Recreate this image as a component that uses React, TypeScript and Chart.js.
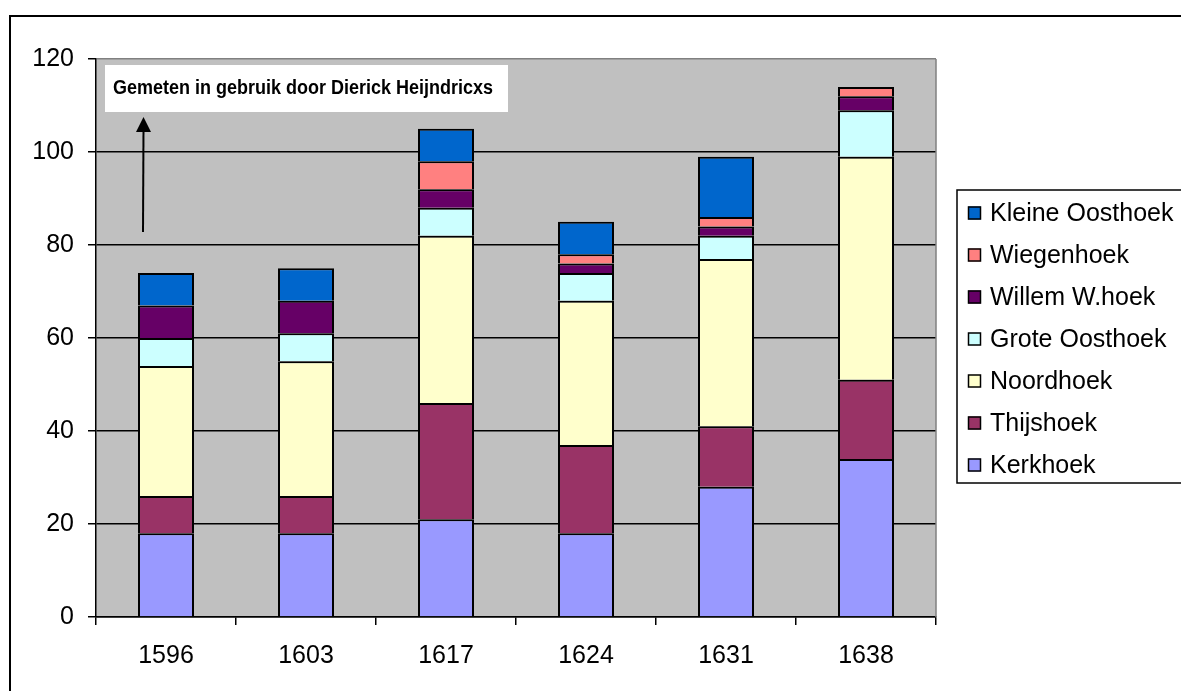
import React, { useEffect, useRef } from "react";
import { Chart, registerables } from "chart.js";

Chart.register(...registerables);

const years = ["1596", "1603", "1617", "1624", "1631", "1638"];
const kerkhoek = [18, 18, 21, 18, 28, 34];
const thijshoek = [8, 8, 25, 19, 13, 17];
const noordhoek = [28, 29, 36, 31, 36, 48];
const groteOosthoek = [6, 6, 6, 6, 5, 10];
const willemWhoek = [7, 7, 4, 2, 2, 3];
const wiegenhoek = [0, 0, 6, 2, 2, 2];
const kleineOosthoek = [7, 7, 7, 7, 13, 0];
const yTicks = [0, 20, 40, 60, 80, 100, 120];
const annotationText = "Gemeten in gebruik door Dierick Heijndricxs";

const FONT = '"Liberation Sans", Arial, sans-serif';

const framePlugin = {
  id: "frame",
  beforeDraw(chart: any) {
    const { ctx, chartArea } = chart;
    ctx.save();
    ctx.fillStyle = "#fff";
    ctx.fillRect(0, 0, chart.width, chart.height);
    ctx.strokeStyle = "#000";
    ctx.lineWidth = 2;
    ctx.strokeRect(10, 16, chart.width + 20, chart.height + 20);
    ctx.fillStyle = "#C0C0C0";
    ctx.fillRect(chartArea.left, chartArea.top, chartArea.right - chartArea.left, chartArea.bottom - chartArea.top);
    ctx.restore();
  },
  afterDraw(chart: any) {
    const { ctx, chartArea } = chart;
    ctx.save();
    // right plot border
    ctx.strokeStyle = "#808080";
    ctx.lineWidth = 1.5;
    ctx.beginPath();
    ctx.moveTo(chartArea.right, chartArea.top);
    ctx.lineTo(chartArea.right, chartArea.bottom);
    ctx.stroke();

    // annotation box
    const bx = chartArea.left + 9;
    const by = chartArea.top + 6;
    const bw = 403;
    const bh = 47;
    ctx.fillStyle = "#fff";
    ctx.fillRect(bx, by, bw, bh);
    ctx.fillStyle = "#000";
    ctx.font = "bold 20px " + FONT;
    ctx.textBaseline = "alphabetic";
    ctx.textAlign = "left";
    const tw = ctx.measureText(annotationText).width;
    const target = 380;
    ctx.save();
    ctx.translate(bx + 8, by + 29);
    ctx.scale(target / tw, 1);
    ctx.fillText(annotationText, 0, 0);
    ctx.restore();

    // arrow
    const ax = chartArea.left + 47;
    const yBottom = chartArea.bottom - 385;
    const yTip = chartArea.top + 58;
    ctx.strokeStyle = "#000";
    ctx.lineWidth = 2;
    ctx.beginPath();
    ctx.moveTo(ax, yBottom);
    ctx.lineTo(ax + 0.5, yTip + 12);
    ctx.stroke();
    ctx.beginPath();
    ctx.moveTo(ax + 0.5, yTip);
    ctx.lineTo(ax - 7, yTip + 15);
    ctx.lineTo(ax + 8, yTip + 15);
    ctx.closePath();
    ctx.fill();

    // legend
    const lx = 957;
    const ly = 190;
    ctx.fillStyle = "#fff";
    ctx.fillRect(lx, ly, chart.width - lx + 10, 293);
    ctx.strokeStyle = "#000";
    ctx.lineWidth = 1.5;
    ctx.strokeRect(lx, ly, chart.width - lx + 10, 293);
    const ds = chart.data.datasets.slice().reverse();
    ctx.font = "25px " + FONT;
    ctx.textBaseline = "middle";
    ds.forEach((d: any, i: number) => {
      const cy = ly + 23 + i * 42;
      ctx.fillStyle = d.backgroundColor;
      ctx.fillRect(968, cy - 6.5, 13, 13);
      ctx.lineWidth = 1.5;
      ctx.strokeStyle = "#000";
      ctx.strokeRect(968.5, cy - 6, 12, 12);
      ctx.fillStyle = "#000";
      ctx.fillText(d.label, 990, cy + 1);
    });
    ctx.restore();
  },
};

export default function App() {
  const ref = useRef<HTMLCanvasElement | null>(null);
  useEffect(() => {
    if (!ref.current) return;
    const mk = (label: string, data: number[], color: string) => ({
      label,
      data,
      backgroundColor: color,
      borderColor: "#000",
      borderWidth: 2,
      borderSkipped: "start",
      barPercentage: 0.4,
      categoryPercentage: 1,
    });
    const chart = new Chart(ref.current, {
      type: "bar",
      data: {
        labels: years,
        datasets: [
          mk("Kerkhoek", kerkhoek, "#9999FF"),
          mk("Thijshoek", thijshoek, "#993366"),
          mk("Noordhoek", noordhoek, "#FFFFCC"),
          mk("Grote Oosthoek", groteOosthoek, "#CCFFFF"),
          mk("Willem W.hoek", willemWhoek, "#660066"),
          mk("Wiegenhoek", wiegenhoek, "#FF8080"),
          mk("Kleine Oosthoek", kleineOosthoek, "#0066CC"),
        ],
      },
      options: {
        responsive: false,
        animation: false,
        layout: { padding: { left: 0, top: 59, right: 245, bottom: 0 } },
        plugins: { legend: { display: false }, tooltip: { enabled: false } },
        scales: {
          x: {
            stacked: true,
            offset: true,
            grid: {
              display: true,
              offset: true,
              drawOnChartArea: false,
              drawTicks: true,
              tickLength: 8,
              color: "#000",
              lineWidth: 1.5,
            },
            border: { color: "#000", width: 1.5 },
            ticks: { color: "#000", font: { family: FONT, size: 25 }, padding: 16 },
            afterFit: (s: any) => {
              s.height = 74;
            },
          },
          y: {
            stacked: true,
            min: 0,
            max: 120,
            afterBuildTicks: (s: any) => {
              s.ticks = yTicks.map((v) => ({ value: v }));
            },
            grid: {
              color: (c: any) => (c.tick && c.tick.value === 120 ? "#808080" : "#000"),
              tickColor: "#000",
              lineWidth: 1.5,
              tickLength: 8,
            },
            border: { color: "#000", width: 1.5 },
            ticks: { color: "#000", font: { family: FONT, size: 25 }, padding: 14 },
            afterFit: (s: any) => {
              s.width = 96;
            },
          },
        },
      },
      plugins: [framePlugin],
    } as any);
    return () => chart.destroy();
  }, []);
  return (
    <div style={{ position: "fixed", left: 0, top: 0, width: 1181, height: 691 }}>
      <canvas ref={ref} width={1181} height={691} style={{ width: 1181, height: 691, display: "block" }} />
    </div>
  );
}
